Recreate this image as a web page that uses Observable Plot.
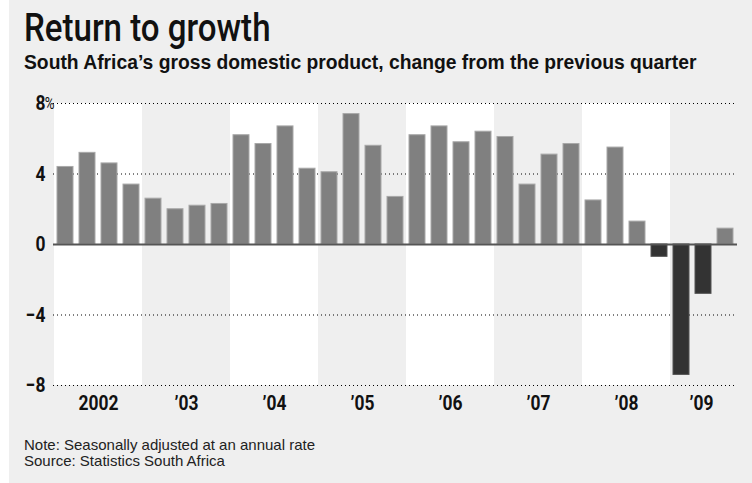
<!DOCTYPE html>
<html>
<head>
<meta charset="utf-8">
<script src="https://cdn.jsdelivr.net/npm/d3@7"></script>
<script src="https://cdn.jsdelivr.net/npm/@observablehq/plot@0.6"></script>
<style>
  html, body { margin: 0; padding: 0; background: #ffffff; }
  #wrap { position: relative; margin-left: 9px; width: 743px; height: 483px; background: #efefef; overflow: hidden; }
  .t { position: absolute; left: 15px; white-space: nowrap; color: #111; }
  #title { top: 8px; font-family: Roboto, "Liberation Sans", sans-serif; font-weight: 500; font-size: 38px; line-height: 40px; transform: scaleX(0.87); transform-origin: left center; }
  #subtitle { top: 52px; font-family: "Liberation Sans", Arial, sans-serif; font-weight: bold; font-size: 19.3px; line-height: 22px; }
  #notes { top: 437px; font-family: "Liberation Sans", Arial, sans-serif; font-size: 15px; line-height: 16px; color: #222; }
  #chart { position: absolute; left: 0; top: 85px; }
</style>
</head>
<body>
<div id="wrap">
  <div class="t" id="title">Return to growth</div>
  <div class="t" id="subtitle">South Africa’s gross domestic product, change from the previous quarter</div>
  <div id="chart"></div>
  <div class="t" id="notes">Note: Seasonally adjusted at an annual rate<br>Source: Statistics South Africa</div>
</div>
<script>
const quarters = [
  "2002 Q1","2002 Q2","2002 Q3","2002 Q4",
  "2003 Q1","2003 Q2","2003 Q3","2003 Q4",
  "2004 Q1","2004 Q2","2004 Q3","2004 Q4",
  "2005 Q1","2005 Q2","2005 Q3","2005 Q4",
  "2006 Q1","2006 Q2","2006 Q3","2006 Q4",
  "2007 Q1","2007 Q2","2007 Q3","2007 Q4",
  "2008 Q1","2008 Q2","2008 Q3","2008 Q4",
  "2009 Q1","2009 Q2","2009 Q3"
];
const gdpChange = [
  4.4, 5.2, 4.6, 3.4,
  2.6, 2.0, 2.2, 2.3,
  6.2, 5.7, 6.7, 4.3,
  4.1, 7.4, 5.6, 2.7,
  6.2, 6.7, 5.8, 6.4,
  6.1, 3.4, 5.1, 5.7,
  2.5, 5.5, 1.3, -0.7,
  -7.4, -2.8, 0.9
];
const yTicks = [-8, -4, 0, 4, 8];
const gridTicks = [-8, -4, 4, 8];
const yearLabelQuarters = ["2002 Q2","2003 Q2","2004 Q2","2005 Q2","2006 Q2","2007 Q2","2008 Q2"];
const yearLabels = ["2002","’03","’04","’05","’06","’07","’08"];
const lastYearQuarter = ["2009 Q2"];
const lastYearLabel = ["’09"];

const data = quarters.map((q, i) => ({q, v: gdpChange[i], year: +q.slice(0, 4)}));
const fontTick = "Roboto, 'Liberation Sans', sans-serif";

const chart = Plot.plot({
  width: 743,
  height: 335,
  marginLeft: 44,
  marginRight: 15,
  marginTop: 18,
  marginBottom: 35,
  style: {background: "transparent", fontFamily: fontTick, fontSize: "21px", fontWeight: "bold", color: "#111"},
  x: {type: "band", domain: quarters, padding: 0, axis: null},
  y: {domain: [-8, 8], ticks: yTicks, label: null},
  marks: [
    // alternating year bands
    Plot.barY(data, {x: "q", y1: -8, y2: 8, fill: d => (d.year % 2 === 0 ? "#ffffff" : "#efefef")}),
    Plot.ruleY(gridTicks, {stroke: "#000", strokeWidth: 1, strokeDasharray: "1,3"}),
    Plot.barY(data, {
      x: "q", y: "v",
      fill: d => (d.v < 0 ? "#333333" : "#808080"),
      stroke: d => (d.v < 0 ? "#555555" : "#a8a8a8"),
      strokeWidth: 1,
      insetLeft: 3, insetRight: 3
    }),
    Plot.ruleY([0], {stroke: "#555", strokeWidth: 2}),
    Plot.axisY({ticks: yTicks, label: null, tickSize: 0, tickPadding: 8, tickFormat: d => (d < 0 ? "−" + (-d) : String(d))}),
    Plot.text([8], {y: d => d, text: () => "%", frameAnchor: "left", textAnchor: "end", dx: 1, dy: 0, fontSize: 16, fontWeight: "normal", ariaLabel: "pct"}),
    Plot.text(yearLabelQuarters, {x: d => d, y: -8, text: (d, i) => yearLabels[i], dx: 11, dy: 18, textAnchor: "middle"}),
    Plot.text(lastYearQuarter, {x: d => d, y: -8, text: (d, i) => lastYearLabel[i], dx: -2, dy: 18, textAnchor: "middle"})
  ]
});
// condense the tick / year label glyphs horizontally (style only)
chart.querySelectorAll("text").forEach(t => {
  const tr = t.getAttribute("transform") || "";
  const sx = t.closest('[aria-label="pct"]') ? 0.7 : 0.83;
  t.setAttribute("transform", (tr + ` scale(${sx},1)`).trim());
});
document.getElementById("chart").appendChild(chart);
</script>
</body>
</html>
